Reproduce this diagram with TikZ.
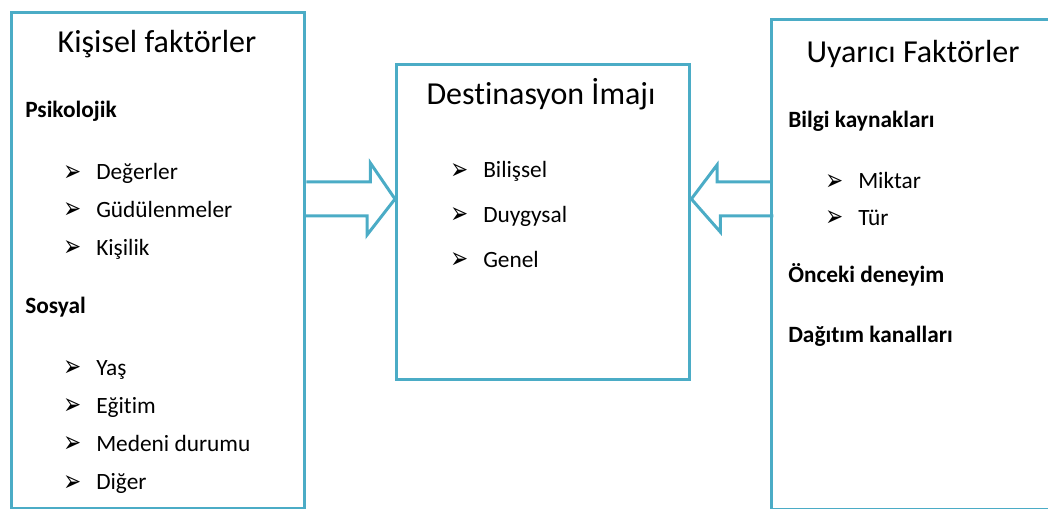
\documentclass[tikz,border=0pt]{standalone}
\usepackage{fontspec}
\setmainfont{Carlito}[Ligatures=NoCommon]
\newfontfamily\okfont{DejaVu Sans}
\usetikzlibrary{positioning}

\definecolor{kutumavi}{HTML}{4BACC6}

\tikzset{
  kutu/.style={draw=kutumavi, line width=2.5pt, rectangle, anchor=north west, inner sep=0},
  baslik/.style={font=\fontsize{24}{28}\selectfont, inner sep=0, anchor=base},
  grup/.style={font=\fontsize{17.5}{21}\selectfont\bfseries, inner sep=0, anchor=base west},
  madde/.style={font=\fontsize{17.5}{21}\selectfont, inner sep=0, text width=150pt, align=flush left, text height=13pt, text depth=4pt},
  blok/.style={draw=kutumavi, line width=2.25pt, line join=miter},
}
\newcommand{\ok}{\makebox[24.75pt][l]{\raisebox{-1pt}{\scalebox{1}[1.4]{\okfont\bfseries\fontsize{16}{16}\selectfont ➢}}}}

\begin{document}
\begin{tikzpicture}[x=0.75pt,y=-0.75pt]
\useasboundingbox (0,0) rectangle (1048,509);

% kutular
\node[kutu, minimum width=219.75pt, minimum height=372pt] (kisisel) at (10,11) {};
\node[kutu, minimum width=219.75pt, minimum height=236.25pt] (imaj) at (395,63) {};
\node[kutu, minimum width=225pt, minimum height=367.5pt] (uyarici) at (770,18) {};

% basliklar
\node[baslik] (kisiselbaslik) at (157,53) {Kişisel faktörler};
\node[baslik] (imajbaslik) at (541,105) {Destinasyon İmajı};
\node[baslik] (uyaricibaslik) at (913,63) {Uyarıcı Faktörler};

% kisisel faktorler
\node[grup] (psikolojik) at (25,118) {Psikolojik};
\node[madde, anchor=base west] (degerler) at (63,180) {\ok Değerler};
\node[madde, below=10.75pt of degerler] (gudulenmeler) {\ok Güdülenmeler};
\node[madde, below=10.75pt of gudulenmeler] (kisilik) {\ok Kişilik};
\node[grup] (sosyal) at (25,313) {Sosyal};
\node[madde, anchor=base west] (yas) at (63,375) {\ok Yaş};
\node[madde, below=11.3pt of yas] (egitim) {\ok Eğitim};
\node[madde, below=11.3pt of egitim] (medeni) {\ok Medeni durumu};
\node[madde, below=11.3pt of medeni] (diger) {\ok Diğer};

% destinasyon imaji
\node[madde, anchor=base west] (bilissel) at (450,178) {\ok Bilişsel};
\node[madde, below=16pt of bilissel] (duygysal) {\ok Duygysal};
\node[madde, below=16pt of duygysal] (genel) {\ok Genel};

% uyarici faktorler
\node[grup] (bilgi) at (788,128) {Bilgi kaynakları};
\node[madde, anchor=base west] (miktar) at (825,189) {\ok Miktar};
\node[madde, below=10pt of miktar] (tur) {\ok Tür};
\node[grup] (onceki) at (788,283) {Önceki deneyim};
\node[grup] (dagitim) at (788,342) {Dağıtım kanalları};

% blok oklar
\coordinate (soluc) at (imaj.west |- 0,199);
\coordinate (saguc) at (imaj.east |- soluc);
\draw[blok] (kisisel.east |- soluc) ++(0,-17) -- ++(64,0) -- ++(0,-19) -- (soluc)
  -- ++(-28,36) -- ++(0,-19) -- ++(-64,0);
\draw[blok] (uyarici.west |- saguc) ++(0,-17) -- ++(-53,0) -- ++(0,-17) -- (saguc)
  -- ++(29,33) -- ++(0,-16) -- ++(53,0);
\end{tikzpicture}
\end{document}
